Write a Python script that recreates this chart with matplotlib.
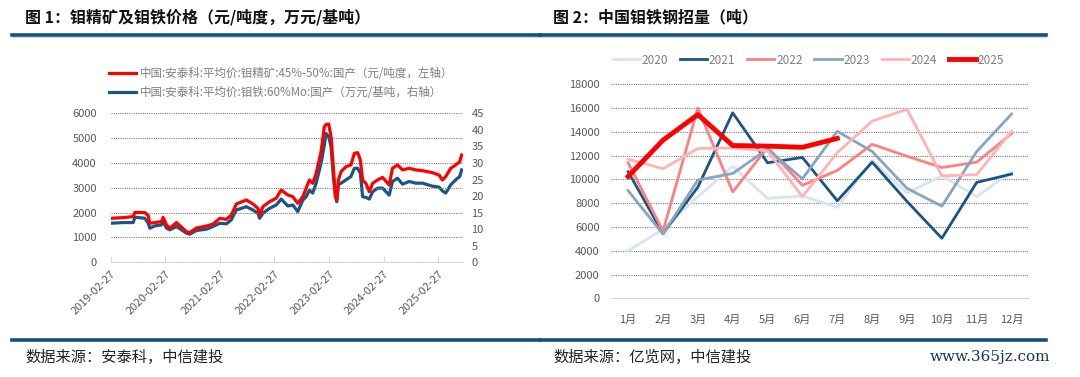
import matplotlib
matplotlib.use("Agg")
import matplotlib.pyplot as plt
import numpy as np
import pandas as pd
from matplotlib.lines import Line2D

plt.rcParams['font.family'] = ['Noto Sans CJK SC', 'DejaVu Sans']

# ---------------- data: chart 1 ----------------
dates = ["2019-02-27", "2019-05-22", "2019-07-28", "2019-08-08", "2019-10-14", "2019-11-05",
         "2019-11-16", "2019-12-20", "2020-02-02", "2020-02-13", "2020-03-07", "2020-03-29",
         "2020-05-12", "2020-07-18", "2020-08-09", "2020-09-23", "2020-11-29", "2021-01-12",
         "2021-02-26", "2021-04-11", "2021-05-14", "2021-06-17", "2021-08-23", "2021-10-06",
         "2021-11-08", "2021-11-20", "2021-12-12", "2022-01-25", "2022-03-11", "2022-04-13",
         "2022-05-28", "2022-06-30", "2022-08-02", "2022-09-05", "2022-09-27", "2022-10-19",
         "2022-11-10", "2022-12-03", "2023-01-05", "2023-01-27", "2023-02-07", "2023-02-25",
         "2023-03-13", "2023-03-28", "2023-04-11", "2023-04-20", "2023-05-01", "2023-05-19",
         "2023-06-21", "2023-07-24", "2023-08-16", "2023-09-07", "2023-09-25", "2023-10-10",
         "2023-11-01", "2023-11-24", "2023-12-16", "2024-01-18", "2024-02-21", "2024-04-05",
         "2024-04-27", "2024-05-31", "2024-07-03", "2024-08-17", "2024-09-30", "2024-11-14",
         "2025-01-19", "2025-03-05", "2025-03-27", "2025-04-18", "2025-05-22", "2025-06-24",
         "2025-07-21", "2025-08-03"]
mo_conc = [1770, 1800, 1840, 2010, 2000, 1880, 1570, 1600, 1640, 1810, 1500, 1370,
           1600, 1235, 1195, 1380, 1460, 1540, 1770, 1730, 1900, 2350, 2510, 2350,
           2170, 1900, 2240, 2440, 2580, 2910, 2710, 2640, 2375, 2640, 2980, 3315,
           3180, 3580, 4455, 5460, 5550, 5570, 5060, 3850, 2640, 2510, 3315, 3650,
           3850, 3920, 4390, 4415, 4120, 3315, 3180, 2845, 3180, 3315, 3420, 3115,
           3785, 3920, 3720, 3785, 3720, 3690, 3610, 3515, 3315, 3450, 3785, 3920,
           4050, 4320]
fe_mo = [11.8, 12.0, 12.0, 13.6, 13.3, 11.8, 10.3, 11.0, 11.3, 12.3, 10.3, 9.8,
         10.8, 8.8, 8.5, 9.6, 10.0, 10.8, 11.8, 11.6, 12.8, 15.8, 16.8, 15.8,
         14.8, 13.3, 14.8, 16.3, 17.3, 19.1, 17.0, 17.3, 15.3, 18.8, 19.8, 21.8,
         20.9, 23.9, 29.9, 35.4, 38.9, 38.0, 34.9, 25.9, 20.3, 18.3, 23.4, 23.9,
         24.9, 25.9, 28.4, 28.4, 26.9, 19.8, 19.6, 19.1, 21.3, 22.4, 22.4, 20.3,
         24.4, 25.4, 23.6, 24.4, 23.9, 23.9, 23.0, 22.7, 21.6, 20.9, 23.4, 24.9,
         25.9, 27.9]
x_ticks1 = ["2019-02-27", "2020-02-27", "2021-02-27", "2022-02-27", "2023-02-27",
            "2024-02-27", "2025-02-27"]
label_conc = "中国:安泰科:平均价:钼精矿:45%-50%:国产（元/吨度，左轴）"
label_femo = "中国:安泰科:平均价:钼铁:60%Mo:国产（万元/基吨，右轴）"

# ---------------- data: chart 2 ----------------
months = ["1月", "2月", "3月", "4月", "5月", "6月", "7月", "8月", "9月", "10月", "11月", "12月"]
bid_2020 = [4000, 5800, 8550, 11100, 8400, 8600, 7650, 11600, 8850, 10300, 8550, 10650]
bid_2021 = [10650, 5450, 9350, 15600, 11400, 11850, 8200, 11450, 8150, 5050, 9750, 10450]
bid_2022 = [11400, 5650, 16000, 8950, 12700, 9500, 10750, 12950, 11950, 11000, 11450, 13850]
bid_2023 = [9050, 5400, 9950, 10500, 12550, 10050, 14050, 12350, 9250, 7750, 12350, 15500]
bid_2024 = [11700, 10900, 12600, 12650, 12400, 8550, 12250, 14900, 15900, 10300, 10400, 14050]
bid_2025 = [10250, 13300, 15450, 12850, 12800, 12700, 13450]
years = ["2020", "2021", "2022", "2023", "2024", "2025"]

W, H = 1080, 377
fig = plt.figure(figsize=(W / 100, H / 100), dpi=100)
fig.patch.set_facecolor('white')

def fx(px):
    return px / W

def fy(py):
    return 1 - py / H

tick_col = '#595959'
grid_kw = dict(color='#7f7f7f', linestyle=(0, (1, 1)), linewidth=0.8)

# ---------- headers & footers ----------
fig.text(fx(25), fy(17), "图 1：钼精矿及钼铁价格（元/吨度，万元/基吨）", fontsize=11.5,
         fontweight='bold', va='center', ha='left', color='#111111')
fig.text(fx(553), fy(17), "图 2：中国钼铁钢招量（吨）", fontsize=11.5,
         fontweight='bold', va='center', ha='left', color='#111111')
for x0, x1 in [(12, 540), (540, 1046)]:
    fig.add_artist(Line2D([fx(x0), fx(x1)], [fy(34.5), fy(34.5)], color='#164f7e', lw=2.6))
    fig.add_artist(Line2D([fx(x0), fx(x1)], [fy(37), fy(37)], color='#c9d6e6', lw=0.8))
    fig.add_artist(Line2D([fx(x0), fx(x1)], [fy(340), fy(340)], color='#164f7e', lw=2.6))
fig.text(fx(25), fy(357), "数据来源：安泰科，中信建投", fontsize=11, style='italic',
         va='center', ha='left', color='#222222')
fig.text(fx(553), fy(357), "数据来源：亿览网，中信建投", fontsize=11, style='italic',
         va='center', ha='left', color='#222222')
fig.text(fx(1050), fy(357), "www.365jz.com", fontsize=11, family='DejaVu Serif',
         va='center', ha='right', color='#1c3560')

# ---------- chart 1 ----------
ax1 = fig.add_axes([fx(110.7), fy(262.3), fx(463 - 110.7), (262.3 - 113.3) / H])
d = pd.to_datetime(dates)
l1, = ax1.plot(d, mo_conc, color='#ff0000', lw=2.3, label=label_conc, zorder=3)
ax1.set_ylim(0, 6000)
ax1.set_yticks(range(0, 6001, 1000))
ax1.set_xlim(pd.Timestamp("2019-02-27"), pd.Timestamp("2025-08-12"))
ax1.grid(axis='y', **grid_kw)
ax1.set_axisbelow(True)
for s in ['top', 'right', 'left']:
    ax1.spines[s].set_visible(False)
ax1.spines['bottom'].set_color('#d9d9d9')
ax1.set_xticks(pd.to_datetime(x_ticks1))
ax1.set_xticklabels(x_ticks1, rotation=45, ha='right', rotation_mode='anchor')
ax1.tick_params(axis='x', colors='#d9d9d9', labelcolor=tick_col, labelsize=8, length=4,
                direction='in', pad=5)
ax1.tick_params(axis='y', colors=tick_col, labelsize=8, length=0, pad=10)
ax2 = ax1.twinx()
l2, = ax2.plot(d, fe_mo, color='#1a5583', lw=2.3, label=label_femo, zorder=2)
ax2.set_ylim(0, 45)
ax2.set_yticks(range(0, 46, 5))
for s in ['top', 'right', 'left', 'bottom']:
    ax2.spines[s].set_visible(False)
ax2.tick_params(axis='y', colors=tick_col, labelsize=8, length=0, pad=6)
ax1.set_zorder(ax2.get_zorder() + 1)
ax1.patch.set_visible(False)
leg1 = fig.legend(handles=[l1, l2], loc='upper left', bbox_to_anchor=(fx(104), fy(62)),
                  frameon=False, fontsize=8.3, handlelength=2.4, handletextpad=0.3,
                  labelspacing=0.55, borderaxespad=0)
for t in leg1.get_texts():
    t.set_color('#7f7f7f')

# ---------- chart 2 ----------
ax3 = fig.add_axes([fx(610.7), fy(298.3), fx(1029 - 610.7), (298.3 - 84.3) / H])
xs = np.arange(len(months))
series = [bid_2020, bid_2021, bid_2022, bid_2023, bid_2024, bid_2025]
colors = ['#dae3f3', '#1a5583', '#ff8080', '#86a5bf', '#ffb3b3', '#ff0000']
widths = [2.0, 2.0, 2.0, 2.0, 2.0, 3.5]
handles = []
for yr, vals, c, w in zip(years, series, colors, widths):
    h, = ax3.plot(xs[:len(vals)], vals, color=c, lw=w, label=yr,
                  zorder=5 if yr == "2025" else 3)
    handles.append(h)
ax3.set_xlim(-0.5, 11.5)
ax3.set_ylim(0, 18000)
ax3.set_yticks(range(0, 18001, 2000))
ax3.set_xticks(xs)
ax3.set_xticklabels(months)
ax3.grid(axis='y', **grid_kw)
ax3.set_axisbelow(True)
for s in ['top', 'right', 'left']:
    ax3.spines[s].set_visible(False)
ax3.spines['bottom'].set_color('#d9d9d9')
ax3.tick_params(axis='x', colors=tick_col, labelsize=8, length=0, pad=12)
ax3.tick_params(axis='y', colors=tick_col, labelsize=8, length=0, pad=8)
leg2 = fig.legend(handles=handles, loc='center left', bbox_to_anchor=(fx(608), fy(60)),
                  ncol=6, frameon=False, fontsize=8.5, handlelength=2.3, handletextpad=0.15,
                  columnspacing=1.0, borderaxespad=0)
for t in leg2.get_texts():
    t.set_color('#7f7f7f')

fig.savefig("out.png", dpi=100, facecolor='white')
